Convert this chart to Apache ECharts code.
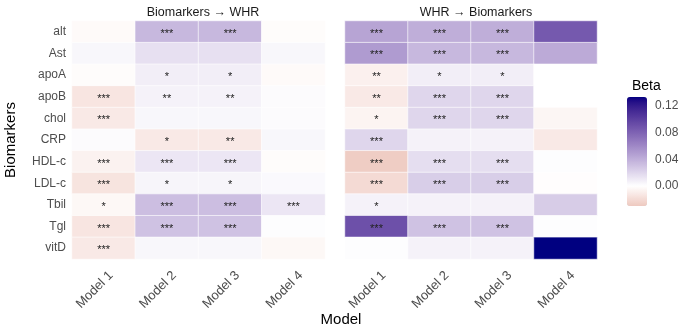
<!DOCTYPE html>
<html>
<head>
<meta charset="utf-8">
<script src="https://cdn.jsdelivr.net/npm/echarts@6/dist/echarts.min.js"></script>
<style>
  html, body { margin: 0; padding: 0; background: #fff; }
  #chart { width: 685px; height: 330px; }
</style>
</head>
<body>
<div id="chart"></div>
<script>
// categories
const biomarkers = ['alt', 'Ast', 'apoA', 'apoB', 'chol', 'CRP', 'HDL-c', 'LDL-c', 'Tbil', 'Tgl', 'vitD'];
const models = ['Model 1', 'Model 2', 'Model 3', 'Model 4'];
const panels = ['Biomarkers \u2192 WHR', 'WHR \u2192 Biomarkers'];

// beta per biomarker (rows) x model (cols)
const betaToWhr = [
  [-0.003, 0.035, 0.035, -0.002],
  [0.004, 0.015, 0.015, 0.004],
  [-0.002, 0.008, 0.008, -0.003],
  [-0.014, 0.006, 0.006, 0.002],
  [-0.012, 0.004, 0.004, 0.002],
  [0.002, -0.012, -0.012, 0.004],
  [-0.007, 0.012, 0.012, -0.002],
  [-0.015, 0.005, 0.005, 0.003],
  [-0.004, 0.032, 0.032, 0.012],
  [-0.014, 0.030, 0.030, 0.001],
  [-0.012, 0.004, 0.004, -0.004]
];
const sigToWhr = [
  ['', '***', '***', ''],
  ['', '', '', ''],
  ['', '*', '*', ''],
  ['***', '**', '**', ''],
  ['***', '', '', ''],
  ['', '*', '**', ''],
  ['***', '***', '***', ''],
  ['***', '*', '*', ''],
  ['*', '***', '***', '***'],
  ['***', '***', '***', ''],
  ['***', '', '', '']
];
const betaFromWhr = [
  [0.045, 0.040, 0.040, 0.085],
  [0.050, 0.035, 0.035, 0.042],
  [-0.008, 0.008, 0.008, 0.000],
  [-0.012, 0.020, 0.020, 0.000],
  [-0.006, 0.020, 0.020, -0.005],
  [0.020, 0.006, 0.006, -0.012],
  [-0.028, 0.016, 0.016, 0.001],
  [-0.020, 0.024, 0.024, -0.001],
  [0.006, 0.006, 0.006, 0.025],
  [0.090, 0.030, 0.030, 0.001],
  [0.001, 0.006, 0.006, 0.133]
];
const sigFromWhr = [
  ['***', '***', '***', ''],
  ['***', '***', '***', ''],
  ['**', '*', '*', ''],
  ['**', '***', '***', ''],
  ['*', '***', '***', ''],
  ['***', '', '', ''],
  ['***', '***', '***', ''],
  ['***', '***', '***', ''],
  ['*', '', '', ''],
  ['***', '***', '***', ''],
  ['', '', '', '']
];
const betaMin = -0.03;
const betaMax = 0.133;
const legendTicks = [0, 0.04, 0.08, 0.12];

// diverging palette white -> darkred / navy, interpolated in Lab like ggplot
function toLab(hex) {
  let c = [1, 3, 5].map(i => parseInt(hex.substr(i, 2), 16) / 255)
    .map(v => v <= 0.04045 ? v / 12.92 : Math.pow((v + 0.055) / 1.055, 2.4));
  let x = (0.4124 * c[0] + 0.3576 * c[1] + 0.1805 * c[2]) / 0.95047;
  let y = 0.2126 * c[0] + 0.7152 * c[1] + 0.0722 * c[2];
  let z = (0.0193 * c[0] + 0.1192 * c[1] + 0.9505 * c[2]) / 1.08883;
  const f = t => t > 0.008856 ? Math.cbrt(t) : 7.787 * t + 16 / 116;
  return [116 * f(y) - 16, 500 * (f(x) - f(y)), 200 * (f(y) - f(z))];
}
function fromLab(l) {
  let fy = (l[0] + 16) / 116, fx = fy + l[1] / 500, fz = fy - l[2] / 200;
  const g = t => t > 0.206893 ? t * t * t : (t - 16 / 116) / 7.787;
  let x = g(fx) * 0.95047, y = g(fy), z = g(fz) * 1.08883;
  let r = 3.2406 * x - 1.5372 * y - 0.4986 * z;
  let gg = -0.9689 * x + 1.8758 * y + 0.0415 * z;
  let b = 0.0557 * x - 0.2040 * y + 1.0570 * z;
  return '#' + [r, gg, b].map(v => {
    v = v <= 0.0031308 ? 12.92 * v : 1.055 * Math.pow(v, 1 / 2.4) - 0.055;
    v = Math.round(Math.max(0, Math.min(1, v)) * 255);
    return v.toString(16).padStart(2, '0');
  }).join('');
}
const lowLab = toLab('#8b0000'), midLab = toLab('#ffffff'), highLab = toLab('#000080');
const scaleAbs = Math.max(Math.abs(betaMin), Math.abs(betaMax));
function betaColor(v) {
  const t = Math.min(1, Math.abs(v) / scaleAbs);
  const end = v < 0 ? lowLab : highLab;
  return fromLab(midLab.map((m, i) => m + (end[i] - m) * t));
}
const stops = [];
for (let i = 0; i <= 60; i++) stops.push(betaColor(betaMin + (betaMax - betaMin) * i / 60));

function toData(beta, sig) {
  const out = [];
  beta.forEach((row, r) => row.forEach((v, c) => out.push([c, r, v, sig[r][c]])));
  return out;
}

const font = 'Liberation Sans, Arial, sans-serif';
const chart = echarts.init(document.getElementById('chart'), null, { renderer: 'canvas' });

const catX = i => ({
  type: 'category', gridIndex: i, data: models,
  axisLine: { show: false }, axisTick: { show: false }, splitLine: { show: false },
  axisLabel: { rotate: 45, color: '#4d4d4d', fontSize: 13, fontFamily: font,
    margin: 7, verticalAlign: 'top', padding: [4, 0, 0, 0] }
});
const catY = (i, showLabels) => ({
  type: 'category', gridIndex: i, data: biomarkers, inverse: true,
  axisLine: { show: false }, axisTick: { show: false }, splitLine: { show: false },
  axisLabel: { show: showLabels, color: '#4d4d4d', fontSize: 12, fontFamily: font, margin: 6 },
  name: showLabels ? 'Biomarkers' : '', nameLocation: 'middle', nameGap: 54,
  nameTextStyle: { color: '#000', fontSize: 15, fontFamily: font }
});

const heat = (i, beta, sig) => ({
  type: 'heatmap', xAxisIndex: i, yAxisIndex: i,
  data: toData(beta, sig),
  itemStyle: { borderColor: '#fff', borderWidth: 0.6 },
  label: {
    show: true, formatter: p => p.value[3], color: '#222', fontSize: 11,
    fontFamily: font, offset: [0, 2]
  },
  emphasis: { disabled: true }
});

chart.setOption({
  animation: false,
  backgroundColor: '#fff',
  title: [
    { text: panels[0], left: 198, top: 1, textAlign: 'center',
      textStyle: { fontSize: 12.5, fontWeight: 'normal', color: '#1a1a1a', fontFamily: font } },
    { text: panels[1], left: 471, top: 1, textAlign: 'center',
      textStyle: { fontSize: 12.5, fontWeight: 'normal', color: '#1a1a1a', fontFamily: font } },
    { text: 'Model', left: 336, top: 307, textAlign: 'center',
      textStyle: { fontSize: 15, fontWeight: 'normal', color: '#000', fontFamily: font } },
    { text: 'Beta', left: 627, top: 74,
      textStyle: { fontSize: 14, fontWeight: 'normal', color: '#000', fontFamily: font } }
  ],
  grid: [
    { left: 72, top: 21, width: 253, height: 238 },
    { left: 345, top: 21, width: 252, height: 238 },
    { left: 627, top: 97, width: 20, height: 109 }
  ],
  xAxis: [catX(0), catX(1), { type: 'value', gridIndex: 2, show: false }],
  yAxis: [
    catY(0, true), catY(1, false),
    {
      type: 'value', gridIndex: 2, position: 'right', min: betaMin, max: betaMax,
      axisLine: { show: false }, splitLine: { show: false },
      axisTick: { show: true, inside: true, length: 4, customValues: legendTicks,
        lineStyle: { color: '#fff', width: 1 } },
      axisLabel: { customValues: legendTicks, formatter: v => v.toFixed(2),
        color: '#4d4d4d', fontSize: 12, fontFamily: font, margin: 8 }
    },
    {
      type: 'value', gridIndex: 2, position: 'left', min: betaMin, max: betaMax,
      axisLine: { show: false }, splitLine: { show: false }, axisLabel: { show: false },
      axisTick: { show: true, inside: true, length: 4, customValues: legendTicks,
        lineStyle: { color: '#fff', width: 1 } }
    }
  ],
  visualMap: {
    type: 'continuous', min: betaMin, max: betaMax, dimension: 2,
    seriesIndex: [0, 1], calculable: false, orient: 'vertical',
    left: 627, top: 97, itemWidth: 20, itemHeight: 109, padding: 0,
    inRange: { color: stops }, z: 1
  },
  series: [heat(0, betaToWhr, sigToWhr), heat(1, betaFromWhr, sigFromWhr)]
});
</script>
</body>
</html>
